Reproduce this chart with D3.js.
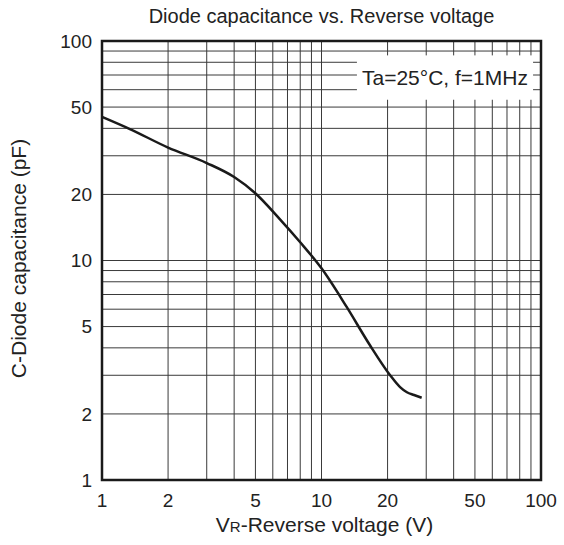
<!DOCTYPE html>
<html lang="en">
  <head>
    <meta charset="utf-8">
    <title>Diode capacitance vs. Reverse voltage</title>
    <script src="https://cdnjs.cloudflare.com/ajax/libs/d3/7.8.5/d3.min.js"></script>
    <style type="text/css">
      body { margin: 0; background: #fff; }
      text { font-family: "Liberation Sans", Arial, sans-serif; fill: #222; }
    </style>
  </head>
  <body>
    <script type="text/javascript">
    // curve: reverse voltage (V) -> capacitance (pF)
    var voltage = [1, 1.34, 2.0, 3.0, 4.0, 4.98, 6.47, 7.98, 10.0, 13.0, 16.6, 20.5, 22.8, 24.5, 26.4, 28.6];
    var capacitance = [45.1, 39.7, 32.7, 27.8, 24.0, 20.3, 15.4, 12.14, 9.21, 6.16, 4.12, 3.01, 2.65, 2.51, 2.44, 2.37];

    var xTickLabels = [1, 2, 5, 10, 20, 50, 100];
    var yTickLabels = [1, 2, 5, 10, 20, 50, 100];
    var gridValues = [1, 2, 3, 4, 5, 6, 7, 8, 9, 10, 20, 30, 40, 50, 60, 70, 80, 90, 100];

    //Width and height
    var w = 564;
    var h = 545;
    var margin = {top: 41, right: 23, bottom: 65, left: 102};
    var pw = w - margin.left - margin.right;
    var ph = h - margin.top - margin.bottom;

    var x = d3.scaleLog().domain([1, 100]).range([0, pw]);
    var y = d3.scaleLog().domain([1, 100]).range([ph, 0]);

    var svg = d3.select("body")
                .append("svg")
                .attr("width", w)
                .attr("height", h);

    var g = svg.append("g")
               .attr("transform", "translate(" + margin.left + "," + margin.top + ")");

    // grid lines, one per unit in each decade
    g.selectAll("line.vgrid")
     .data(gridValues)
     .enter()
     .append("line")
     .attr("class", "vgrid")
     .attr("x1", function(d) { return x(d); })
     .attr("x2", function(d) { return x(d); })
     .attr("y1", 0)
     .attr("y2", ph)
     .attr("stroke", "#3a3a3a")
     .attr("stroke-width", 1);

    g.selectAll("line.hgrid")
     .data(gridValues)
     .enter()
     .append("line")
     .attr("class", "hgrid")
     .attr("x1", 0)
     .attr("x2", pw)
     .attr("y1", function(d) { return y(d); })
     .attr("y2", function(d) { return y(d); })
     .attr("stroke", "#3a3a3a")
     .attr("stroke-width", 1);

    // condition label in a white box, top right of the plot
    var noteX0 = x(14.5), noteX1 = x(92);
    var noteY0 = y(86), noteY1 = y(54);
    var note = g.append("g")
                .attr("transform", "translate(" + noteX0 + "," + noteY0 + ")");
    note.append("rect")
        .attr("x", 0)
        .attr("y", 0)
        .attr("width", noteX1 - noteX0)
        .attr("height", noteY1 - noteY0)
        .attr("fill", "#fff");
    note.append("text")
        .attr("x", (noteX1 - noteX0) / 2)
        .attr("y", 30)
        .attr("text-anchor", "middle")
        .attr("font-size", "21px")
        .text("Ta=25°C, f=1MHz");

    // frame
    g.append("rect")
     .attr("x", 0)
     .attr("y", 0)
     .attr("width", pw)
     .attr("height", ph)
     .attr("fill", "none")
     .attr("stroke", "#1a1a1a")
     .attr("stroke-width", 2.5);

    // data curve
    var points = voltage.map(function(v, i) { return [v, capacitance[i]]; });
    var line = d3.line()
                 .x(function(d) { return x(d[0]); })
                 .y(function(d) { return y(d[1]); })
                 .curve(d3.curveMonotoneX);

    g.append("path")
     .datum(points)
     .attr("d", line)
     .attr("fill", "none")
     .attr("stroke", "#1a1a1a")
     .attr("stroke-width", 2.5);

    // tick labels
    g.selectAll("text.xtick")
     .data(xTickLabels)
     .enter()
     .append("text")
     .attr("class", "xtick")
     .attr("x", function(d) { return x(d); })
     .attr("y", ph + 27)
     .attr("text-anchor", "middle")
     .attr("font-size", "19px")
     .text(function(d) { return d; });

    g.selectAll("text.ytick")
     .data(yTickLabels)
     .enter()
     .append("text")
     .attr("class", "ytick")
     .attr("x", -10)
     .attr("y", function(d) { return y(d); })
     .attr("dy", "0.36em")
     .attr("text-anchor", "end")
     .attr("font-size", "19px")
     .text(function(d) { return d; });

    // titles
    svg.append("text")
       .attr("x", margin.left + pw / 2)
       .attr("y", 23)
       .attr("text-anchor", "middle")
       .attr("font-size", "20px")
       .text("Diode capacitance vs. Reverse voltage");

    var xt = svg.append("text")
       .attr("x", margin.left + pw / 2 + 3)
       .attr("y", 532)
       .attr("text-anchor", "middle")
       .attr("font-size", "21px");
    xt.append("tspan").text("V");
    xt.append("tspan").attr("font-size", "15px").text("R");
    xt.append("tspan").text("-Reverse voltage (V)");

    svg.append("text")
       .attr("transform", "translate(26," + (margin.top + ph / 2 - 2) + ") rotate(-90)")
       .attr("text-anchor", "middle")
       .attr("font-size", "21px")
       .text("C-Diode capacitance (pF)");
    </script>
  </body>
</html>
